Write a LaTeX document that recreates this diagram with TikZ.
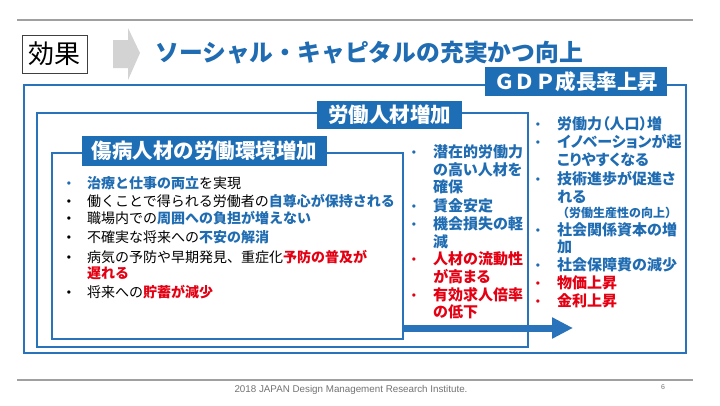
\documentclass[tikz,border=0pt]{standalone}
\usepackage{fontspec}
\setmainfont{Liberation Sans}
\newfontfamily\jp{Noto Sans CJK JP}
\newfontfamily\jpp[RawFeature=+palt]{Noto Sans CJK JP}
\usetikzlibrary{arrows.meta}
\definecolor{tblue}{RGB}{31,108,178}
\definecolor{lblue}{RGB}{30,110,182}
\definecolor{bblue}{RGB}{40,115,185}
\definecolor{tred}{RGB}{228,0,18}
\definecolor{agray}{RGB}{211,211,211}
\definecolor{lgray}{RGB}{160,160,160}
\begin{document}
\begin{tikzpicture}[x=1pt,y=-1pt,
  box/.style={draw=bblue, line width=1.5pt, inner sep=0},
  lab/.style={fill=lblue, text=white, inner sep=0, font=\jp\bfseries\fontsize{20.5}{20}\selectfont},
  bw/.style={anchor=base west, inner sep=0, yshift=-5.2pt},
  inl/.style={bw, font=\jp\fontsize{14}{14}\selectfont},
  bol/.style={bw, font=\jpp\bfseries\fontsize{15}{15}\selectfont, text=tblue},
  bul/.style={anchor=base, inner sep=0, yshift=-4.6pt, font=\fontsize{12}{12}\selectfont},
  bigarrow/.style={draw=bblue, line width=7pt, -{Triangle[length=21pt,width=20pt]}},
  rule/.style={draw=lgray, line width=1.2pt}
]
\path[use as bounding box] (0,0) rectangle (720,405);
\fill[white] (0,0) rectangle (720,405);
% header / footer rules
\draw[rule] (17,20) -- (693,20);
\draw[rule] (17,380) -- (693,380);
% header
\node[draw=black!75, line width=0.8pt, minimum width=65pt, minimum height=38pt, inner sep=0,
      font=\jp\fontsize{26}{26}\selectfont] (kk) at (54.5,54) {効果};
\fill[agray] (113,40) -- (128,40) -- (128,28) -- (140,53) -- (128,80) -- (128,68) -- (113,68) -- cycle;
\node[anchor=west, inner sep=0, text=tblue, font=\jp\bfseries\fontsize{23.8}{24}\selectfont] (title) at (155,53) {ソーシャル・キャピタルの充実かつ向上};
% boxes
\node[box, minimum width=662pt, minimum height=268pt] (outer) at (355,219) {};
\node[box, minimum width=491pt, minimum height=234pt] (middle) at (282.5,230) {};
\node[box, minimum width=351pt, minimum height=186pt] (inner) at (227.5,246) {};
% labels
\node[lab, minimum width=182pt, minimum height=29pt] (gdp) at (576,81.5) {ＧＤＰ成長率上昇};
\node[lab, minimum width=145pt, minimum height=28pt] (rodo) at (389.5,115) {労働人材増加};
\node[lab, minimum width=245pt, minimum height=30pt] (shobyo) at (204.5,151) {傷病人材の労働環境増加};
% arrow
\coordinate (tip) at (573,328);
\draw[bigarrow] (inner.east |- tip) -- (tip);
% inner list
\node[bul, text=tblue] (ib1) at (69,183) {•};
\node[inl] (i1) at (87,183) {{\color{tblue}\bfseries 治療と仕事の両立}を実現};
\node[bul] (ib2) at (69,201) {•};
\node[inl] (i2) at (87,201) {働くことで得られる労働者の{\color{tblue}\bfseries 自尊心が保持される}};
\node[bul] (ib3) at (69,218) {•};
\node[inl] (i3) at (87,218) {職場内での{\color{tblue}\bfseries 周囲への負担が増えない}};
\node[bul] (ib4) at (69,237) {•};
\node[inl] (i4) at (87,237) {不確実な将来への{\color{tblue}\bfseries 不安の解消}};
\node[bul] (ib5) at (69,257) {•};
\node[inl] (i5) at (87,257) {病気の予防や早期発見、重症化{\color{tred}\bfseries 予防の普及が}};
\node[inl, text=tred] (i6) at (87,273) {\bfseries 遅れる};
\node[bul] (ib7) at (69,292) {•};
\node[inl] (i7) at (87,292) {将来への{\color{tred}\bfseries 貯蓄が減少}};
% middle list
\node[bul, text=tblue] (mb1) at (414,152) {•};
\node[bol] (m1) at (433,152) {潜在的労働力};
\node[bol] (m2) at (433,170) {の高い人材を};
\node[bol] (m3) at (433,187) {確保};
\node[bul, text=tblue] (mb4) at (414,206) {•};
\node[bol] (m4) at (433,206) {賃金安定};
\node[bul, text=tblue] (mb5) at (414,224) {•};
\node[bol] (m5) at (433,224) {機会損失の軽};
\node[bol] (m6) at (433,242) {減};
\node[bul, text=tred] (mb7) at (414,259) {•};
\node[bol, text=tred] (m7) at (433,259) {人材の流動性};
\node[bol, text=tred] (m8) at (433,277) {が高まる};
\node[bul, text=tred] (mb9) at (414,295) {•};
\node[bol, text=tred] (m9) at (433,295) {有効求人倍率};
\node[bol, text=tred] (m10) at (433,312) {の低下};
% right list
\node[bul, text=tblue] (rb1) at (538,124) {•};
\node[bol] (r1) at (557,124) {労働力（人口）増};
\node[bul, text=tblue] (rb2) at (538,142) {•};
\node[bol] (r2) at (557,142) {イノベーションが起};
\node[bol] (r3) at (557,160) {こりやすくなる};
\node[bul, text=tblue] (rb4) at (538,179) {•};
\node[bol] (r4) at (557,179) {技術進歩が促進さ};
\node[bol] (r5) at (557,197) {れる};
\node[bol, font=\jp\bfseries\fontsize{12}{12}\selectfont, yshift=0.8pt] (r6) at (557,213) {（労働生産性の向上）};
\node[bul, text=tblue] (rb7) at (538,230) {•};
\node[bol] (r7) at (557,230) {社会関係資本の増};
\node[bol] (r8) at (557,247) {加};
\node[bul, text=tblue] (rb9) at (538,265) {•};
\node[bol] (r9) at (557,265) {社会保障費の減少};
\node[bul, text=tred] (rb10) at (538,283) {•};
\node[bol, text=tred] (r10) at (557,283) {物価上昇};
\node[bul, text=tred] (rb11) at (538,301) {•};
\node[bol, text=tred] (r11) at (557,301) {金利上昇};
% footer
\node[inner sep=0, text=black!55, font=\fontsize{9.8}{10}\selectfont] (foot) at (351,390) {2018 JAPAN Design Management Research Institute.};
\node[inner sep=0, text=black!55, font=\fontsize{7}{8}\selectfont] (page) at (663,387) {6};
\end{tikzpicture}
\end{document}
